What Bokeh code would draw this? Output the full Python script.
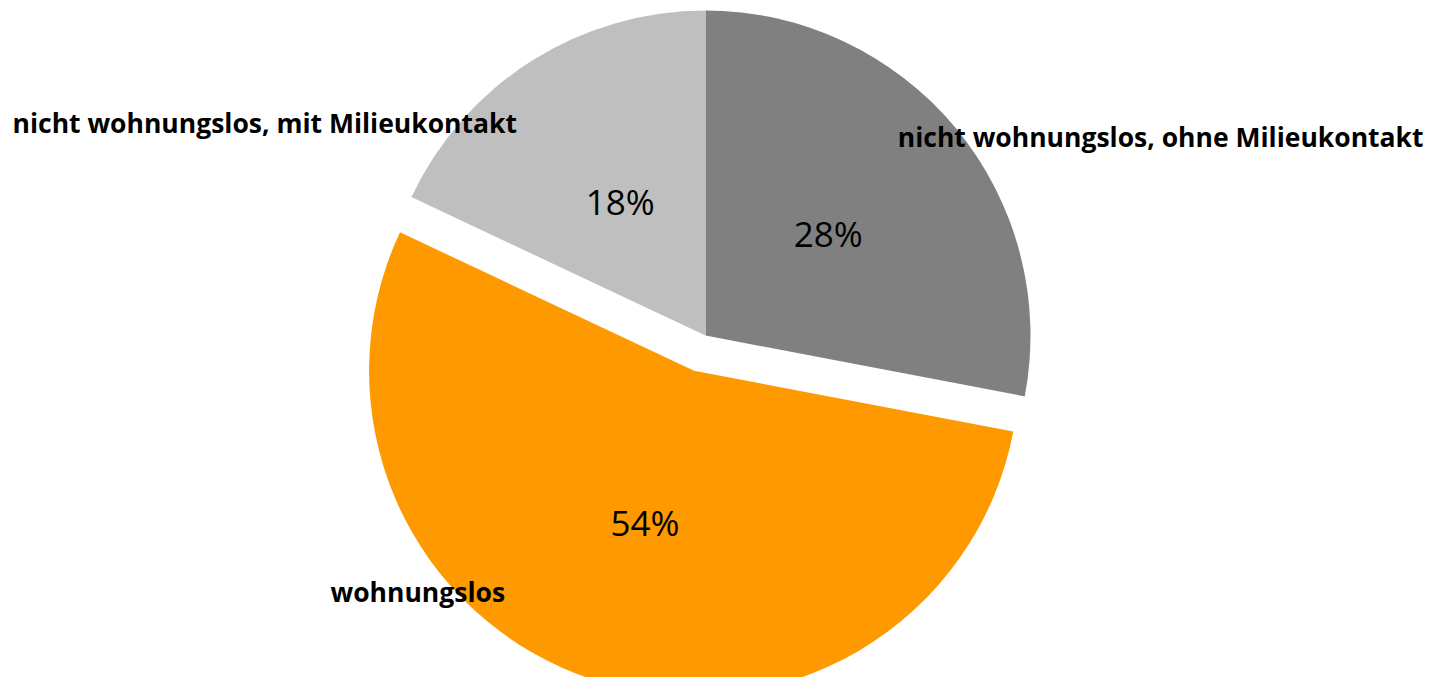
import math
from bokeh.plotting import figure
from bokeh.models import Range1d, ColumnDataSource
from bokeh.core.properties import value
from bokeh.embed import file_html
from bokeh.resources import INLINE

# ---- data ----
categories = ["nicht wohnungslos, ohne Milieukontakt", "wohnungslos", "nicht wohnungslos, mit Milieukontakt"]
values = [28, 54, 18]
pct_labels = ["28%", "54%", "18%"]
colors = ["#808080", "#FF9900", "#BFBFBF"]
explode = [0, 37, 0]

# ---- layout (pixel-like data coords, y up; image y = 693 - data y) ----
W, H = 1427, 677
cx, cy = 705, 693 - 335
R = 325

total = sum(values)
starts, ends, xs, ys, lx, ly = [], [], [], [], [], []
cum = 0.0
for v, off in zip(values, explode):
    a_hi = math.pi / 2 - 2 * math.pi * cum / total
    cum += v
    a_lo = math.pi / 2 - 2 * math.pi * cum / total
    mid = (a_hi + a_lo) / 2
    x0 = cx + off * math.cos(mid)
    y0 = cy + off * math.sin(mid)
    starts.append(a_lo)
    ends.append(a_hi)
    xs.append(x0)
    ys.append(y0)
    lx.append(x0 + 0.49 * R * math.cos(mid))
    ly.append(y0 + 0.49 * R * math.sin(mid))

src = ColumnDataSource(dict(x=xs, y=ys, start=starts, end=ends, color=colors,
                            lx=lx, ly=ly, pct=pct_labels, cat=categories))

p = figure(width=W, height=H, output_backend="svg", toolbar_location=None,
           x_range=Range1d(0, W), y_range=Range1d(693 - H, 693),
           min_border=0, outline_line_color=None, background_fill_color="white",
           border_fill_color="white")
p.axis.visible = False
p.grid.visible = False

p.wedge(x="x", y="y", radius=R, start_angle="start", end_angle="end",
        fill_color="color", line_color=None, source=src)

p.text(x="lx", y="ly", text="pct", source=src, text_align="center",
       text_baseline="middle", text_font=value("Open Sans"), text_font_size="35px",
       text_color="#000000", text_line_height=1.0)

# category labels (right one anchored at its right end so it stays inside)
p.text(x=[1423], y=[693 - 136], text=[categories[0]], text_align="right",
       text_baseline="alphabetic", text_font=value("Open Sans"), text_font_size="26.5px",
       text_font_style="bold", text_color="#000000")
p.text(x=[330, 12], y=[693 - 591, 693 - 122], text=categories[1:], text_align="left",
       text_baseline="alphabetic", text_font=value("Open Sans"), text_font_size="26.5px",
       text_font_style="bold", text_color="#000000")

open("out.html", "w").write(file_html(p, INLINE))
